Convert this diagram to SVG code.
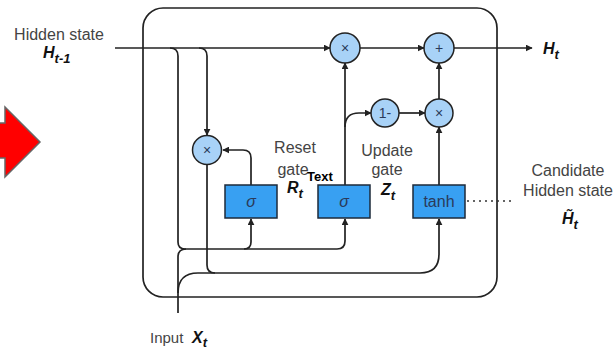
<svg xmlns="http://www.w3.org/2000/svg" width="615" height="350" viewBox="0 0 615 350">
<defs>
<marker id="arr" viewBox="0 0 10 10" refX="9" refY="5" markerWidth="7" markerHeight="7" markerUnits="userSpaceOnUse" orient="auto">
<path d="M0,0 L10,5 L0,10 z" fill="#222"/>
</marker>
<style>
.ln{fill:none;stroke:#222;stroke-width:1.7}
.ar{marker-end:url(#arr)}
.op{fill:#a8d2f7;stroke:#222;stroke-width:1.5}
.bx{fill:#38a0f2;stroke:#1d2a3a;stroke-width:1.5}
.lb{font-family:"Liberation Sans",Arial,sans-serif;font-size:16px;fill:#444}
.ot{font-family:"Liberation Sans",Arial,sans-serif;font-size:14px;fill:#2a3a5a;text-anchor:middle}
.mt{font-family:"Liberation Sans",Arial,sans-serif;font-weight:bold;font-style:italic;font-size:16px;fill:#111}
.sb{font-size:13px}
</style>
</defs>
<g id="red-arrow">
<polygon points="-5,123 5,123 5,107 40,142 5,177 5,158 -5,158" fill="#ff0000" stroke="#666" stroke-width="1.5"/>
</g>
<g id="cell">
<rect x="143" y="8" width="354" height="289" rx="20" ry="20" class="ln"/>
</g>
<g id="connectors">
<path class="ln ar" d="M115,48 H330"/>
<path class="ln" d="M170,48 Q178,48 178,56 V242 Q178,249 185,249 H337"/>
<path class="ln ar" d="M337,249 Q345,249 345,241 V219"/>
<path class="ln ar" d="M244,249 Q251,249 251,242 V219"/>
<path class="ln ar" d="M199,48 Q207,48 207,56 V135"/>
<path class="ln" d="M178,313 V257 Q178,249 186,249"/>
<path class="ln" d="M178,293 Q178,273 198,273 H420"/>
<path class="ln ar" d="M420,273 Q439,273 439,254 V219"/>
<path class="ln" d="M207,164.5 V265 Q207,273 215,273"/>
<path class="ln ar" d="M251,185 V158 Q251,150 243,150 H223"/>
<path class="ln ar" d="M345,185 V63"/>
<path class="ln ar" d="M345,127 Q345,113 359,113 H371"/>
<path class="ln ar" d="M360,48 H424"/>
<path class="ln ar" d="M399,113 H425"/>
<path class="ln ar" d="M439,99 V63"/>
<path class="ln ar" d="M439,185 V127"/>
<path class="ln ar" d="M454,48 H532"/>
<path d="M467,201 H514" fill="none" stroke="#333" stroke-width="1.7" stroke-dasharray="2,4"/>
</g>
<g id="mul-reset">
<circle cx="207" cy="150" r="14.5" class="op"/>
<text x="207" y="155" class="ot">×</text>
</g>
<g id="mul-top">
<circle cx="345" cy="48" r="15" class="op"/>
<text x="345" y="53" class="ot">×</text>
</g>
<g id="plus">
<circle cx="439" cy="48" r="15" class="op"/>
<text x="439" y="53" class="ot">+</text>
</g>
<g id="one-minus">
<circle cx="385" cy="113" r="14" class="op"/>
<text x="385" y="118" class="ot">1-</text>
</g>
<g id="mul-low">
<circle cx="439" cy="113" r="14" class="op"/>
<text x="439" y="118" class="ot">×</text>
</g>
<g id="sigma-reset">
<rect x="225" y="185" width="52" height="33" class="bx"/>
<text x="251" y="207" class="ot" style="font-style:italic;font-size:16px">σ</text>
</g>
<g id="sigma-update">
<rect x="318" y="185" width="52" height="33" class="bx"/>
<text x="344" y="207" class="ot" style="font-style:italic;font-size:16px">σ</text>
</g>
<g id="tanh">
<rect x="413" y="185" width="52" height="33" class="bx"/>
<text x="439" y="207" class="ot" style="font-size:16px">tanh</text>
</g>
<g id="labels">
<text x="59" y="40" class="lb" text-anchor="middle">Hidden state</text>
<text x="43" y="58" class="mt">H<tspan class="sb" dy="5">t-1</tspan></text>
<text x="543" y="54" class="mt">H<tspan class="sb" dy="5">t</tspan></text>
<text x="295" y="153" class="lb" text-anchor="middle">Reset</text>
<text x="293" y="175" class="lb" text-anchor="middle">gate</text>
<text x="287" y="193" class="mt">R<tspan class="sb" dy="5">t</tspan></text>
<text x="307" y="181" font-family="Liberation Sans, Arial, sans-serif" font-weight="bold" font-size="13" fill="#000">Text</text>
<text x="387" y="156" class="lb" text-anchor="middle">Update</text>
<text x="387" y="175" class="lb" text-anchor="middle">gate</text>
<text x="381" y="195" class="mt">Z<tspan class="sb" dy="5">t</tspan></text>
<text x="568" y="176" class="lb" text-anchor="middle">Candidate</text>
<text x="568" y="196" class="lb" text-anchor="middle">Hidden state</text>
<text x="562" y="224" class="mt">H&#x303;<tspan class="sb" dy="5">t</tspan></text>
<text x="150" y="343" class="lb" style="font-size:15px">Input</text>
<text x="192" y="343" class="mt">X<tspan class="sb" dy="4">t</tspan></text>
</g>
</svg>
